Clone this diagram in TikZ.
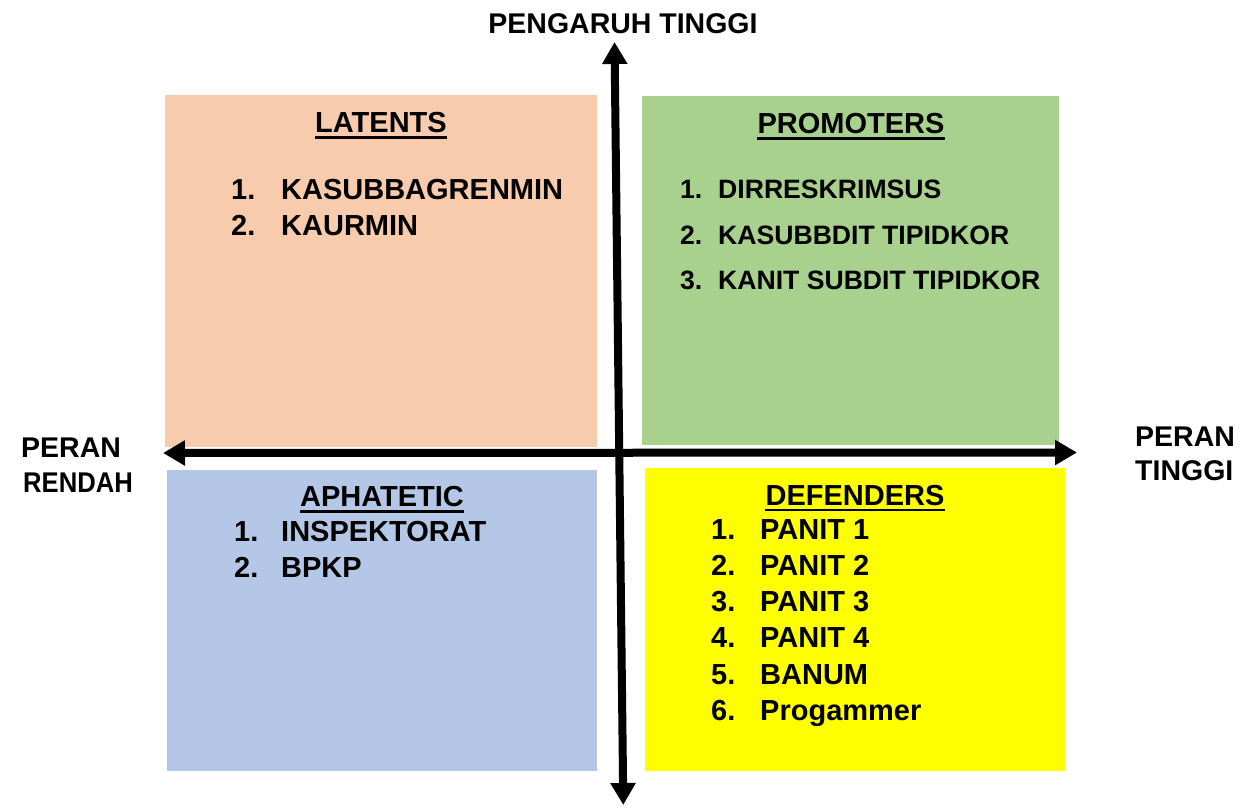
\documentclass[tikz,border=0pt]{standalone}
\usepackage{fontspec}
\setmainfont{Liberation Sans}
\usetikzlibrary{arrows.meta}
\definecolor{peach}{HTML}{F8CBAD}
\definecolor{leaf}{HTML}{A9D18E}
\definecolor{sky}{HTML}{B4C7E7}
\definecolor{lemon}{HTML}{FFFF00}
\begin{document}
\begin{tikzpicture}[x=1pt,y=-1pt,
  quad/.style={fill=#1,draw=none},
  headtxt/.style={anchor=base,inner sep=0pt,font=\fontsize{29}{35}\selectfont\bfseries},
  numtxt/.style={anchor=base west,inner sep=0pt,font=\fontsize{#1}{35}\selectfont\bfseries},
  numtxt/.default=29,
  axislbl/.style={anchor=base west,inner sep=0pt,font=\fontsize{28.5}{34}\selectfont\bfseries},
  uline/.style={line width=2.8pt},
  axisarrow/.style={line width=8pt,{Triangle[length=22pt,width=24pt]}-{Triangle[length=22pt,width=24pt]}}]
\useasboundingbox (0,0) rectangle (1247,806);
% quadrants
\fill[quad=peach] (165,95) rectangle (597,447);
\fill[quad=leaf] (642,96) rectangle (1059,445);
\fill[quad=sky] (167,470) rectangle (597,771);
\fill[quad=lemon] (645,468) rectangle (1065,771);
% axes
\coordinate (vtop) at (614.5,42);
\coordinate (vbot) at (623.3,805);
\coordinate (hleft) at (163,453);
\coordinate (hright) at (1077,452.5);
\draw[axisarrow] (vtop) -- (vbot);
\draw[axisarrow] (hleft) -- (hright);
% axis labels
\node[axislbl,anchor=base] (ptop) at (623,33) {PENGARUH TINGGI};
\node[axislbl] (pl1) at (21,457) {PERAN};
\node[axislbl] (pl2) at (23,492) {\scalebox{0.9}[1]{RENDAH}};
\node[axislbl] (pr1) at (1135,446) {PERAN};
\node[axislbl] (pr2) at (1135,480) {TINGGI};
% headings
\node[headtxt] (hlat) at (381,132.5) {LATENTS};
\node[headtxt] (hpro) at (851,133.5) {PROMOTERS};
\node[headtxt] (hapa) at (382,506.5) {APHATETIC};
\node[headtxt] (hdef) at (855,505) {DEFENDERS};
\foreach \h in {hlat,hpro,hapa,hdef}
  \draw[uline] ([yshift=-5pt]\h.base west) -- ([yshift=-5pt]\h.base east);
% latents
\node[numtxt] (l1n) at (231,199.5) {1.};
\node[numtxt] (l1t) at (281,199.5) {KASUBBAGRENMIN};
\node[numtxt] (l2n) at (231,235) {2.};
\node[numtxt] (l2t) at (281,235) {KAURMIN};
% promoters
\node[numtxt=26.6] (p1n) at (680,198.5) {1.};
\node[numtxt=26.6] (p1t) at (718,198.5) {DIRRESKRIMSUS};
\node[numtxt=26.6] (p2n) at (680,244) {2.};
\node[numtxt=26.6] (p2t) at (718,244) {KASUBBDIT TIPIDKOR};
\node[numtxt=26.6] (p3n) at (680,289.5) {3.};
\node[numtxt=26.6] (p3t) at (718,289.5) {KANIT SUBDIT TIPIDKOR};
% aphatetic
\node[numtxt] (a1n) at (234,541) {1.};
\node[numtxt] (a1t) at (281,541) {INSPEKTORAT};
\node[numtxt] (a2n) at (234,577.5) {2.};
\node[numtxt] (a2t) at (281,577.5) {BPKP};
% defenders
\node[numtxt] (d1n) at (711,539) {1.};
\node[numtxt] (d1t) at (760,539) {PANIT 1};
\node[numtxt] (d2n) at (711,575) {2.};
\node[numtxt] (d2t) at (760,575) {PANIT 2};
\node[numtxt] (d3n) at (711,611.5) {3.};
\node[numtxt] (d3t) at (760,611.5) {PANIT 3};
\node[numtxt] (d4n) at (711,647.5) {4.};
\node[numtxt] (d4t) at (760,647.5) {PANIT 4};
\node[numtxt] (d5n) at (711,684) {5.};
\node[numtxt] (d5t) at (760,684) {BANUM};
\node[numtxt] (d6n) at (711,720) {6.};
\node[numtxt] (d6t) at (760,720) {Progammer};
\end{tikzpicture}
\end{document}
